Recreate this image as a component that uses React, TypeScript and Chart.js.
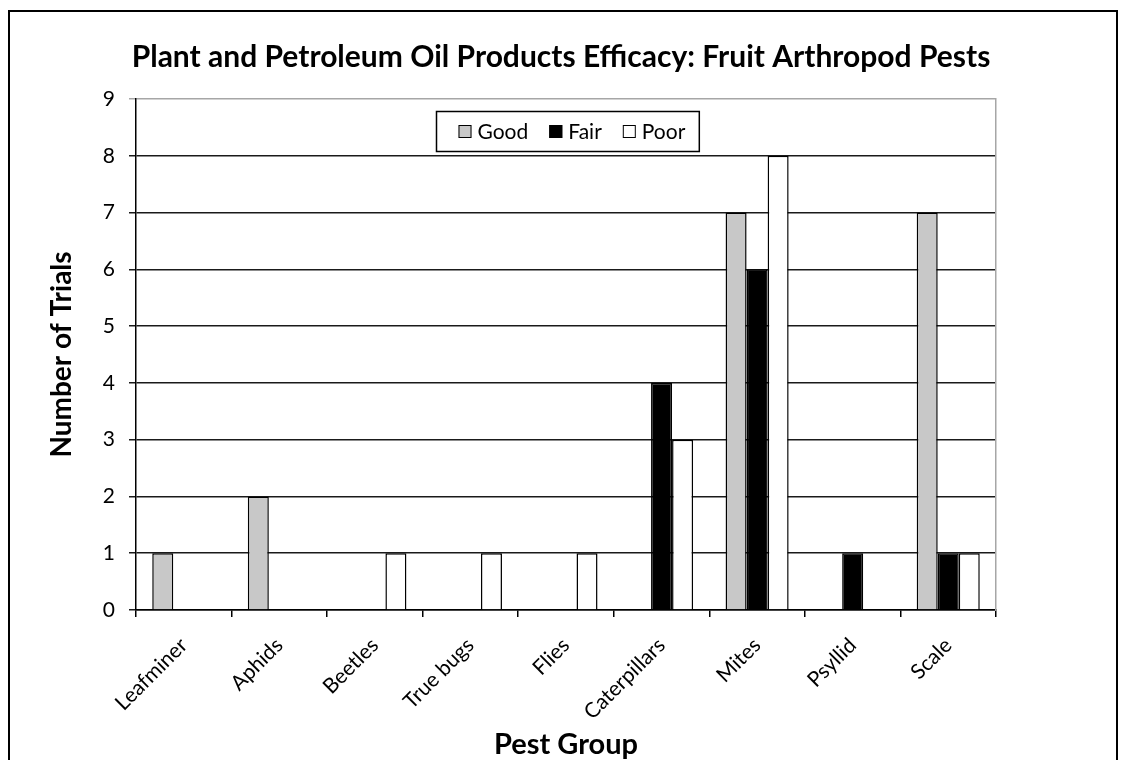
import React, { useEffect, useRef } from 'react';
import { Chart, registerables } from 'chart.js';

Chart.register(...registerables);

const categories = ['Leafminer', 'Aphids', 'Beetles', 'True bugs', 'Flies', 'Caterpillars', 'Mites', 'Psyllid', 'Scale'];
const seriesLabels = ['Good', 'Fair', 'Poor'];
const goodValues = [1, 2, 0, 0, 0, 0, 7, 0, 7];
const fairValues = [0, 0, 0, 0, 0, 4, 6, 1, 1];
const poorValues = [0, 0, 1, 1, 1, 3, 8, 0, 1];
const yMin = 0;
const yMax = 9;
const yStep = 1;

const titleText = 'Plant and Petroleum Oil Products Efficacy: Fruit Arthropod Pests';
const xTitle = 'Pest Group';
const yTitle = 'Number of Trials';

const FONT = 'Lato, "Open Sans", sans-serif';
const seriesColors = ['#c8c8c8', '#000000', '#ffffff'];

const framePlugin = {
  id: 'frameAndLegend',
  afterDraw(chart: any) {
    const ctx = chart.ctx as CanvasRenderingContext2D;
    const ca = chart.chartArea;
    ctx.save();
    // outer frame
    ctx.strokeStyle = '#000';
    ctx.lineWidth = 2;
    ctx.beginPath();
    ctx.moveTo(9, chart.height + 5);
    ctx.lineTo(9, 11);
    ctx.lineTo(1117, 11);
    ctx.lineTo(1117, chart.height + 5);
    ctx.stroke();

    // legend box
    const fontSize = 21;
    ctx.font = `${fontSize}px ${FONT}`;
    const sw = 13;
    const gap = 6;
    const itemGap = 21;
    const padL = 22;
    const padR = 14;
    const datasets = chart.data.datasets;
    const widths = datasets.map((d: any) => ctx.measureText(d.label).width);
    let content = 0;
    widths.forEach((w: number, i: number) => {
      content += sw + gap + w + (i < widths.length - 1 ? itemGap : 0);
    });
    const boxW = padL + content + padR;
    const boxH = 40;
    const cx = (ca.left + ca.right) / 2 + 1;
    const bx = Math.round(cx - boxW / 2) + 0.5;
    const by = ca.top + 12 + 0.5;
    ctx.fillStyle = '#fff';
    ctx.fillRect(bx, by, boxW, boxH);
    ctx.strokeStyle = '#000';
    ctx.lineWidth = 1.5;
    ctx.strokeRect(bx, by, boxW, boxH);
    let x = bx + padL;
    const midY = by + boxH / 2;
    datasets.forEach((d: any, i: number) => {
      ctx.fillStyle = d.backgroundColor;
      ctx.fillRect(x, midY - sw / 2, sw, sw);
      ctx.lineWidth = 1;
      ctx.strokeStyle = '#000';
      ctx.strokeRect(x + 0.5, midY - sw / 2 + 0.5, sw - 1, sw - 1);
      x += sw + gap;
      ctx.fillStyle = '#000';
      ctx.textBaseline = 'middle';
      ctx.textAlign = 'left';
      ctx.fillText(d.label, x, midY + 1);
      x += widths[i] + itemGap;
    });
    ctx.restore();
  },
};

export default function App() {
  const canvasRef = useRef<HTMLCanvasElement | null>(null);

  useEffect(() => {
    if (!canvasRef.current) return;
    const allValues = [goodValues, fairValues, poorValues];
    const chart = new Chart(canvasRef.current, {
      type: 'bar',
      data: {
        labels: categories,
        datasets: seriesLabels.map((label, i) => ({
          label,
          data: allValues[i],
          backgroundColor: seriesColors[i],
          borderColor: '#000',
          borderWidth: 1.5,
          categoryPercentage: 0.66,
          barPercentage: 1,
        })),
      },
      options: {
        responsive: false,
        animation: false,
        layout: { padding: 0 },
        plugins: {
          legend: { display: false },
          tooltip: { enabled: false },
          title: {
            display: true,
            text: titleText,
            color: '#000',
            font: { family: FONT, size: 30, weight: 'bold', lineHeight: 1.2 },
            padding: { top: 39, bottom: 24 },
          },
        },
        scales: {
          x: {
            offset: true,
            grid: {
              offset: true,
              drawOnChartArea: false,
              drawTicks: true,
              tickLength: 7,
              color: '#000',
              lineWidth: 1.5,
            },
            border: { display: true, color: '#000', width: 1.5 },
            ticks: {
              autoSkip: false,
              maxRotation: 45,
              minRotation: 45,
              color: '#000',
              padding: 16,
              font: { family: FONT, size: 21 },
            },
            title: {
              display: true,
              text: xTitle,
              color: '#000',
              font: { family: FONT, size: 29, weight: 'bold', lineHeight: 1 },
              padding: { top: 0, bottom: 0.5 },
            },
            afterFit: (s: any) => {
              s.height = 150;
            },
          },
          y: {
            min: yMin,
            max: yMax,
            ticks: {
              stepSize: yStep,
              color: '#000',
              padding: 14,
              font: { family: FONT, size: 21 },
            },
            grid: {
              color: (c: any) => (c.tick && c.tick.value === yMax ? '#a6a6a6' : '#1a1a1a'),
              lineWidth: 1.5,
              tickLength: 7,
              drawTicks: true,
            },
            border: { display: true, color: '#000', width: 1.5 },
            title: {
              display: true,
              text: yTitle,
              color: '#000',
              font: { family: FONT, size: 28, weight: 'bold', lineHeight: 1 },
              padding: { top: 48, bottom: 0 },
            },
            afterFit: (s: any) => {
              s.width = 136;
            },
          },
          y2: {
            position: 'right',
            display: true,
            grid: { drawOnChartArea: false, drawTicks: false },
            ticks: { display: false },
            border: { display: true, color: '#a6a6a6', width: 1.5 },
            afterFit: (s: any) => {
              s.width = 126;
            },
          },
        },
      } as any,
      plugins: [framePlugin],
    });
    return () => chart.destroy();
  }, []);

  return (
    <div style={{ position: 'fixed', left: 0, top: 0, width: 1122, height: 760, background: '#fff' }}>
      <canvas ref={canvasRef} width={1122} height={760} style={{ display: 'block' }} />
    </div>
  );
}
